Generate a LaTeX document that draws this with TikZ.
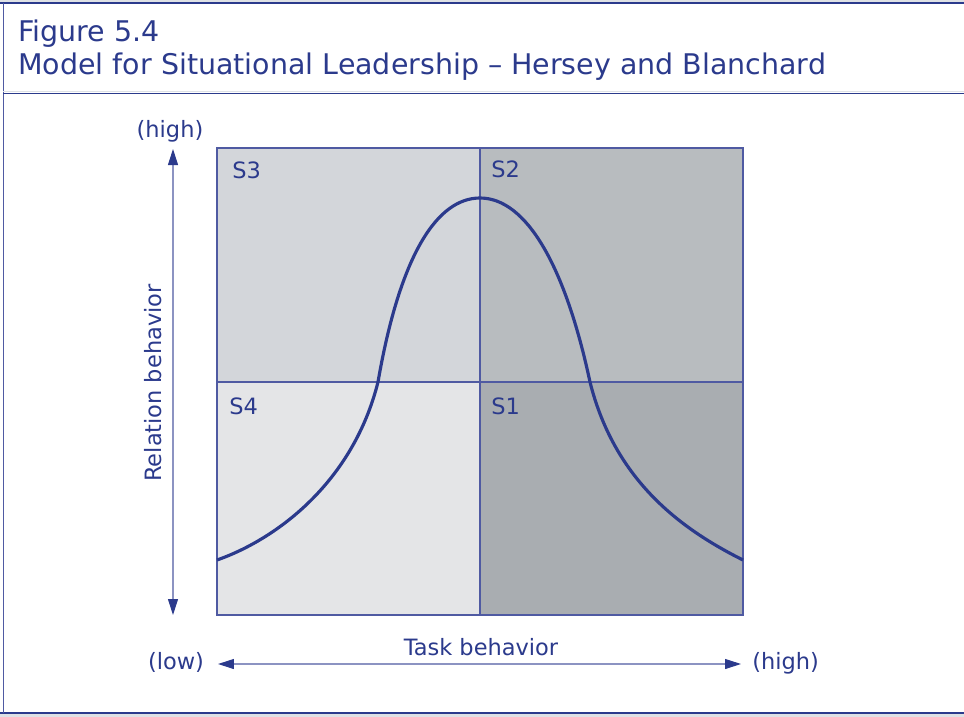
\documentclass[tikz,border=0pt]{standalone}
\usepackage{fontspec}
\setmainfont{DejaVu Sans}
\usetikzlibrary{arrows.meta}
\definecolor{navy}{HTML}{2B3A8C}
\definecolor{gridblue}{HTML}{4F5AA2}
\definecolor{axisblue}{HTML}{8C93C2}
\definecolor{stripgrey}{HTML}{DEE1E5}
\definecolor{qone}{HTML}{A9ADB1}
\definecolor{qtwo}{HTML}{B8BCBF}
\definecolor{qthree}{HTML}{D3D6DA}
\definecolor{qfour}{HTML}{E4E5E7}
\tikzset{
  headtext/.style={anchor=base west, inner sep=0pt, text=navy, font=\fontsize{16.2}{19}\selectfont},
  smalltext/.style={inner sep=0pt, text=navy, font=\fontsize{12.8}{15}\selectfont},
  axisline/.style={axisblue, line width=0.6pt,
    {Triangle[color=navy, length=0.32cm, width=0.2cm]}-{Triangle[color=navy, length=0.32cm, width=0.2cm]}},
}
\begin{document}
\begin{tikzpicture}[x=0.02cm, y=-0.02cm]
  %%%%% START %%%%%
  \useasboundingbox (0,0) rectangle (964,717);

  % frame
  \fill[stripgrey] (0,0) rectangle (964,2.5);
  \fill[stripgrey] (0,714) rectangle (964,717);
  \draw[navy, line width=1pt] (0,3) -- (964,3);
  \draw[navy, line width=1pt] (0,713) -- (964,713);
  \draw[gridblue, line width=0.9pt] (3.5,3) -- (3.5,713);
  \draw[stripgrey, line width=0.6pt] (3.5,91.5) -- (964,91.5);
  \draw[navy, line width=0.9pt] (3.5,93.5) -- (964,93.5);

  % heading
  \node[headtext] (fig) at (18,41) {Figure 5.4};
  \node[headtext] (title) at (18,74) {Model for Situational Leadership – Hersey and Blanchard};

  % quadrants
  \fill[qthree] (217,148) rectangle (480,382);
  \fill[qtwo] (480,148) rectangle (743,382);
  \fill[qfour] (217,382) rectangle (480,615);
  \fill[qone] (480,382) rectangle (743,615);
  \draw[gridblue, line width=0.6pt] (217,148) rectangle (743,615);
  \draw[gridblue, line width=0.6pt] (480,148) -- (480,615);
  \draw[gridblue, line width=0.6pt] (217,382) -- (743,382);

  \node[smalltext, anchor=base west] (s3) at (232,178) {S3};
  \node[smalltext, anchor=base west] (s2) at (491,177) {S2};
  \node[smalltext, anchor=base west] (s4) at (229,414) {S4};
  \node[smalltext, anchor=base west] (s1) at (491,414) {S1};

  % curve
  \draw[navy, line width=1.8pt] (217,560)
    .. controls (277,539) and (353,482) .. (378,382)
    .. controls (400,255) and (437,198) .. (480,198)
    .. controls (526,198) and (565,265) .. (590,382)
    .. controls (615,482) and (683,530) .. (743,560);

  % axes
  \coordinate (ytop) at (173,149);
  \coordinate (ybot) at (173,615);
  \coordinate (xleft) at (218,664);
  \coordinate (xright) at (741,664);
  \draw[axisline] (ytop) -- (ybot);
  \draw[axisline] (xleft) -- (xright);

  \node[smalltext, anchor=base] (yhigh) at (170,137) {(high)};
  \node[smalltext, anchor=base, rotate=90] (ylab) at (161,383) {Relation behavior};
  \node[smalltext, anchor=base] (xlow) at (176,669) {(low)};
  \node[smalltext, anchor=base west] (xhigh) at (752,669) {(high)};
  \node[smalltext, anchor=base] (xlab) at (481,655) {Task behavior};
  %%%%% END %%%%%
\end{tikzpicture}
\end{document}
